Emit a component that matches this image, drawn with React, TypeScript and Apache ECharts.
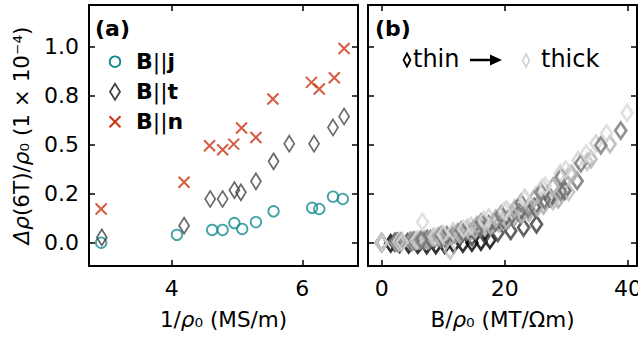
import React, { useEffect, useRef } from "react";
import * as echarts from "echarts";

// ---------- Panel (a) data ----------
const jX = [2.92, 4.08, 4.62, 4.78, 4.96, 5.08, 5.29, 5.56, 6.15, 6.26, 6.47, 6.62];
const jY = [0.0, 0.04, 0.065, 0.065, 0.1, 0.07, 0.105, 0.16, 0.178, 0.172, 0.235, 0.223];
const tX = [2.93, 4.19, 4.59, 4.78, 4.96, 5.06, 5.29, 5.56, 5.8, 6.18, 6.47, 6.64];
const tY = [0.027, 0.087, 0.223, 0.223, 0.268, 0.257, 0.313, 0.415, 0.505, 0.505, 0.588, 0.644];
const nX = [2.92, 4.19, 4.58, 4.78, 4.95, 5.07, 5.29, 5.55, 6.14, 6.26, 6.49, 6.64];
const nY = [0.172, 0.308, 0.495, 0.474, 0.503, 0.585, 0.537, 0.733, 0.818, 0.784, 0.842, 0.991];

const yTicks = [0, 0.25, 0.5, 0.75, 1.0];
const yTickLabels = ["0.0", "0.2", "0.5", "0.8", "1.0"];
const aXTicks = [4, 6];
const bXTicks = [0, 20, 40];

// ---------- Panel (b) data ----------
const fieldSteps = [0, 0.5, 1, 1.5, 2, 2.5, 3, 3.5, 4, 4.5, 5, 5.5, 6];
const sampleInvRho = [2.93, 4.19, 4.59, 4.78, 4.96, 5.06, 5.29, 5.56, 5.8, 6.18, 6.47, 6.64];
const sampleColors = [
  "#000000", "#3a3a3a", "#808080", "#a8a8a8", "#555555", "#bdbdbd",
  "#6e6e6e", "#c4c4c4", "#d2d2d2", "#b0b0b0", "#777777", "#d9d9d9",
];
const s1 = [0.0, -0.004, -0.006, -0.008, -0.01, -0.012, -0.012, -0.011, -0.009, -0.005, 0.0, 0.006, 0.014];
const s2 = [0.0, 0.002, 0.001, 0.005, 0.011, 0.014, 0.024, 0.03, 0.041, 0.05, 0.06, 0.077, 0.094];
const s3 = [0.0, 0.003, 0.008, 0.012, 0.027, 0.037, 0.058, 0.075, 0.103, 0.124, 0.158, 0.186, 0.226];
const s4 = [0.0, 0.001, 0.007, 0.016, 0.023, 0.041, 0.054, 0.079, 0.098, 0.129, 0.153, 0.191, 0.221];
const s5 = [0.0, 0.004, 0.006, 0.018, 0.028, 0.049, 0.065, 0.093, 0.117, 0.153, 0.183, 0.228, 0.266];
const s6 = [0.0, 0.002, 0.009, 0.014, 0.031, 0.043, 0.066, 0.085, 0.116, 0.143, 0.18, 0.213, 0.259];
const s7 = [0.0, 0.003, 0.01, 0.018, 0.037, 0.052, 0.08, 0.104, 0.141, 0.174, 0.219, 0.26, 0.315];
const s8 = [0.0, 0.005, 0.01, 0.028, -0.04, 0.074, 0.101, 0.143, 0.181, 0.236, 0.285, 0.352, 0.413];
const s9 = [0.0, 0.004, 0.016, 0.03, 0.058, 0.086, 0.128, 0.169, 0.227, 0.281, 0.354, 0.421, 0.507];
const s10 = [0.0, 0.002, 0.013, 0.033, 0.054, 0.09, 0.124, 0.174, 0.222, 0.286, 0.349, 0.426, 0.503];
const s11 = [0.0, 0.006, 0.015, 0.039, 0.063, 0.104, 0.145, 0.203, 0.258, 0.334, 0.405, 0.497, 0.572];
const s12 = [0.0, 0.003, 0.105, 0.043, 0.071, 0.116, 0.162, 0.227, 0.29, 0.374, 0.455, 0.558, 0.662];
const sampleCurves = [s1, s2, s3, s4, s5, s6, s7, s8, s9, s10, s11, s12];

const FONT = '"DejaVu Sans", sans-serif';
const TEAL = "#0f8b8d";
const RED = "#cc3311";
const DGREY = "#444444";
const FS = 22;
const NFS = 21.5;

const frame = { show: true, onZero: false, lineStyle: { color: "#000", width: 2 } };
const tick = (vals: number[]) => ({
  show: true,
  inside: true,
  length: 6,
  customValues: vals,
  lineStyle: { color: "#000", width: 1.5 },
});
const nameStyle = {
  fontSize: NFS,
  color: "#000",
  fontFamily: FONT,
  rich: { i: { fontSize: NFS, fontStyle: "italic", fontFamily: FONT, color: "#000" } },
};

export default function App() {
  const ref = useRef<HTMLDivElement>(null);
  useEffect(() => {
    if (!ref.current) return;
    const chart = echarts.init(ref.current, null, { renderer: "svg" });
    const yLabelFmt = (v: number) => {
      const i = yTicks.indexOf(v);
      return i >= 0 ? yTickLabels[i] : "";
    };
    const aXmin = 2.734, aXmax = 6.853;
    const bXmin = -2.22, bXmax = 41.46;
    const yMin = -0.119, yMax = 1.213;

    const bSeries = sampleCurves.map((curve, k) => ({
      type: "scatter",
      xAxisIndex: 2,
      yAxisIndex: 2,
      symbol: "diamond",
      symbolSize: [11, 16],
      itemStyle: { color: "rgba(0,0,0,0)", borderColor: sampleColors[k], borderWidth: 2.8 },
      data: fieldSteps.map((b, i) => [b * sampleInvRho[k], curve[i]]),
      z: 2 + k,
    }));

    const option: any = {
      animation: false,
      backgroundColor: "#fff",
      textStyle: { fontFamily: FONT },
      grid: [
        { left: 89, top: 5, width: 269, height: 261, outerBoundsMode: "none", containLabel: false },
        { left: 368, top: 5, width: 269, height: 261, outerBoundsMode: "none", containLabel: false },
      ],
      xAxis: [
        {
          type: "value", gridIndex: 0, position: "bottom", min: aXmin, max: aXmax,
          axisLine: frame, axisTick: tick(aXTicks), splitLine: { show: false },
          axisLabel: { customValues: aXTicks, fontSize: FS, color: "#000", fontFamily: FONT, margin: 11 },
          name: "1/{i|ρ}₀ (MS/m)", nameLocation: "middle", nameGap: 42, nameTextStyle: nameStyle,
        },
        {
          type: "value", gridIndex: 0, position: "top", min: aXmin, max: aXmax,
          axisLine: frame, axisTick: tick(aXTicks), axisLabel: { show: false }, splitLine: { show: false },
        },
        {
          type: "value", gridIndex: 1, position: "bottom", min: bXmin, max: bXmax,
          axisLine: frame, axisTick: tick(bXTicks), splitLine: { show: false },
          axisLabel: { customValues: bXTicks, fontSize: FS, color: "#000", fontFamily: FONT, margin: 11 },
          name: "B/{i|ρ}₀ (MT/Ωm)", nameLocation: "middle", nameGap: 42, nameTextStyle: nameStyle,
        },
        {
          type: "value", gridIndex: 1, position: "top", min: bXmin, max: bXmax,
          axisLine: frame, axisTick: tick(bXTicks), axisLabel: { show: false }, splitLine: { show: false },
        },
      ],
      yAxis: [
        {
          type: "value", gridIndex: 0, position: "left", min: yMin, max: yMax,
          axisLine: frame, axisTick: tick(yTicks), splitLine: { show: false },
          axisLabel: { customValues: yTicks, formatter: yLabelFmt, fontSize: FS, color: "#000", fontFamily: FONT, margin: 10 },
          name: "{i|Δρ}(6T)/{i|ρ}₀ (1 × 10⁻⁴)", nameLocation: "middle", nameGap: 57, nameTextStyle: nameStyle,
        },
        {
          type: "value", gridIndex: 0, position: "right", min: yMin, max: yMax,
          axisLine: frame, axisTick: tick(yTicks), axisLabel: { show: false }, splitLine: { show: false },
        },
        {
          type: "value", gridIndex: 1, position: "left", min: yMin, max: yMax,
          axisLine: frame, axisTick: tick(yTicks), axisLabel: { show: false }, splitLine: { show: false },
        },
        {
          type: "value", gridIndex: 1, position: "right", min: yMin, max: yMax,
          axisLine: frame, axisTick: tick(yTicks), axisLabel: { show: false }, splitLine: { show: false },
        },
      ],
      series: [
        {
          name: "B||j", type: "scatter", xAxisIndex: 0, yAxisIndex: 0, symbol: "circle", symbolSize: 10.5,
          itemStyle: { color: "rgba(0,0,0,0)", borderColor: TEAL, borderWidth: 1.8 },
          data: jX.map((x, i) => [x, jY[i]]),
        },
        {
          name: "B||t", type: "scatter", xAxisIndex: 0, yAxisIndex: 0, symbol: "diamond", symbolSize: [10, 16],
          itemStyle: { color: "rgba(0,0,0,0)", borderColor: DGREY, borderWidth: 1.8 },
          data: tX.map((x, i) => [x, tY[i]]),
        },
        {
          name: "B||n", type: "scatter", xAxisIndex: 0, yAxisIndex: 0,
          symbol: "path://M0 0L10 10M10 0L0 10", symbolSize: 11,
          itemStyle: { color: "rgba(0,0,0,0)", borderColor: RED, borderWidth: 2 },
          data: nX.map((x, i) => [x, nY[i]]),
        },
        ...bSeries,
      ],
      graphic: [
        { type: "text", x: 95, y: 28, style: { text: "(a)", fontFamily: FONT, fontSize: FS, fontWeight: "bold", fill: "#000", verticalAlign: "middle" } },
        { type: "circle", shape: { cx: 115, cy: 61.7, r: 5.3 }, style: { fill: "none", stroke: TEAL, lineWidth: 1.8 } },
        {
          type: "polygon",
          shape: { points: [[115, 83.7], [120, 91.7], [115, 99.7], [110, 91.7]] },
          style: { fill: "none", stroke: DGREY, lineWidth: 1.8 },
        },
        { type: "line", shape: { x1: 109.5, y1: 116.2, x2: 120.5, y2: 127.2 }, style: { stroke: RED, lineWidth: 2 } },
        { type: "line", shape: { x1: 120.5, y1: 116.2, x2: 109.5, y2: 127.2 }, style: { stroke: RED, lineWidth: 2 } },
        ...[["j", 61.7], ["t", 91.7], ["n", 121.7]].map(([c, y]) => ({
          type: "text",
          x: 136,
          y: y as number,
          style: {
            text: `{b|B}{r|||}{b|${c}}`,
            verticalAlign: "middle",
            rich: {
              b: { fontFamily: FONT, fontSize: FS, fontWeight: "bold", fill: "#000" },
              r: { fontFamily: FONT, fontSize: FS, fontWeight: "normal", fill: "#000" },
            },
          },
        })),
        { type: "text", x: 375, y: 28, style: { text: "(b)", fontFamily: FONT, fontSize: FS, fontWeight: "bold", fill: "#000", verticalAlign: "middle" } },
        {
          type: "polygon",
          shape: { points: [[407, 53.5], [410.5, 60], [407, 66.5], [403.5, 60]] },
          style: { fill: "none", stroke: "#000", lineWidth: 1.8 },
        },
        { type: "text", x: 413, y: 59, style: { text: "thin", fontFamily: FONT, fontSize: 24, fill: "#000", verticalAlign: "middle" } },
        { type: "line", shape: { x1: 470, y1: 60, x2: 493, y2: 60 }, style: { stroke: "#000", lineWidth: 2.5 } },
        { type: "polygon", shape: { points: [[490, 54.5], [502, 60], [490, 65.5]] }, style: { fill: "#000" } },
        {
          type: "polygon",
          shape: { points: [[526, 54], [529.5, 60.5], [526, 67], [522.5, 60.5]] },
          style: { fill: "none", stroke: "#d4d4d4", lineWidth: 1.8 },
        },
        { type: "text", x: 541, y: 59, style: { text: "thick", fontFamily: FONT, fontSize: 24, fill: "#000", verticalAlign: "middle" } },
      ],
    };
    chart.setOption(option);
    return () => chart.dispose();
  }, []);
  return (
    <div
      ref={ref}
      style={{ position: "fixed", left: 0, top: 0, width: 638, height: 337, background: "#fff" }}
    />
  );
}
